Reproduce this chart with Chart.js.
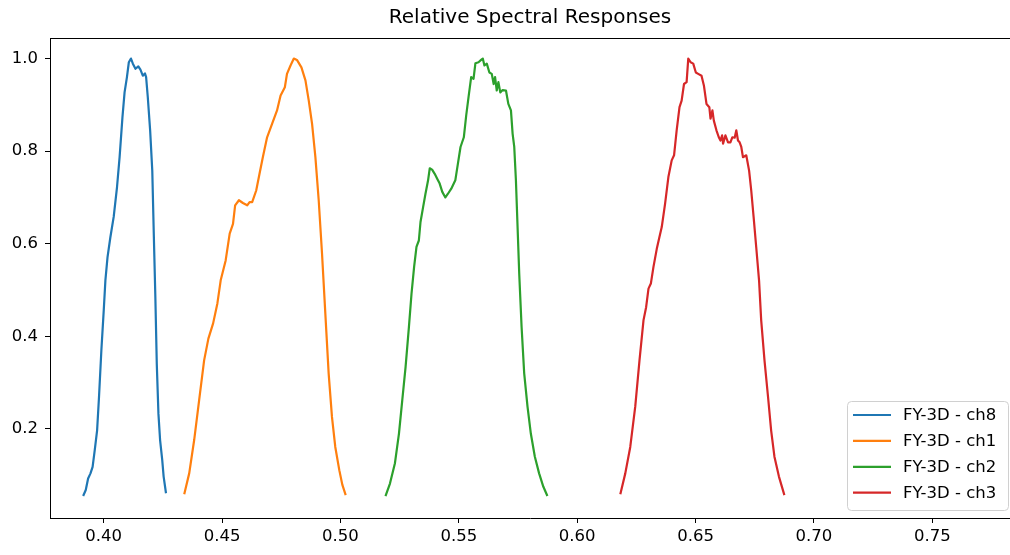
<!DOCTYPE html>
<html>
<head>
<meta charset="utf-8">
<script src="https://cdn.jsdelivr.net/npm/chart.js@4"></script>
<style>
    body { margin: 0; background: #fff; }
    canvas { display: block; }
</style>
</head>
<body>
<canvas id="srf" width="1010" height="555"></canvas>
<script>
// wavelengths in micrometres, responses normalised to 1
const ch8Wl = [0.3913, 0.3924, 0.3934, 0.3944, 0.3953, 0.3962, 0.3972, 0.3980, 0.3990, 0.4000, 0.4007, 0.4016, 0.4028, 0.4042, 0.4056, 0.4067, 0.4079, 0.4088, 0.4098, 0.4106, 0.4115, 0.4123, 0.4134, 0.4146, 0.4155, 0.4165, 0.4174, 0.4179, 0.4186, 0.4196, 0.4205, 0.4211, 0.4218, 0.4224, 0.4231, 0.4238, 0.4247, 0.4253, 0.4263];
const ch8Resp = [0.055, 0.068, 0.093, 0.104, 0.118, 0.154, 0.197, 0.269, 0.370, 0.456, 0.521, 0.571, 0.614, 0.658, 0.722, 0.787, 0.873, 0.927, 0.960, 0.992, 1.0, 0.989, 0.978, 0.983, 0.976, 0.963, 0.968, 0.960, 0.917, 0.845, 0.758, 0.629, 0.485, 0.341, 0.233, 0.176, 0.133, 0.097, 0.061];

const ch1Wl = [0.4340, 0.4361, 0.4382, 0.4403, 0.4424, 0.4442, 0.4462, 0.4480, 0.4494, 0.4515, 0.4532, 0.4546, 0.4555, 0.4571, 0.4588, 0.4606, 0.4616, 0.4627, 0.4644, 0.4658, 0.4672, 0.4690, 0.4711, 0.4732, 0.4747, 0.4765, 0.4774, 0.4789, 0.4803, 0.4816, 0.4835, 0.4852, 0.4866, 0.4880, 0.4894, 0.4908, 0.4922, 0.4936, 0.4950, 0.4964, 0.4978, 0.4995, 0.5008, 0.5022];
const ch1Resp = [0.059, 0.104, 0.176, 0.262, 0.348, 0.395, 0.428, 0.471, 0.521, 0.564, 0.622, 0.643, 0.683, 0.694, 0.688, 0.683, 0.690, 0.690, 0.715, 0.751, 0.787, 0.830, 0.859, 0.888, 0.920, 0.938, 0.967, 0.985, 1.0, 0.997, 0.981, 0.953, 0.909, 0.859, 0.787, 0.694, 0.579, 0.449, 0.320, 0.226, 0.161, 0.111, 0.079, 0.057];

const ch2Wl = [0.5190, 0.5209, 0.5230, 0.5247, 0.5261, 0.5275, 0.5289, 0.5300, 0.5311, 0.5321, 0.5331, 0.5338, 0.5349, 0.5359, 0.5370, 0.5377, 0.5387, 0.5398, 0.5409, 0.5419, 0.5430, 0.5443, 0.5454, 0.5468, 0.5485, 0.5496, 0.5507, 0.5521, 0.5531, 0.5541, 0.5552, 0.5562, 0.5570, 0.5583, 0.5594, 0.5601, 0.5608, 0.5618, 0.5629, 0.5639, 0.5647, 0.5653, 0.5660, 0.5667, 0.5675, 0.5685, 0.5699, 0.5709, 0.5720, 0.5727, 0.5734, 0.5741, 0.5748, 0.5755, 0.5765, 0.5776, 0.5790, 0.5804, 0.5821, 0.5839, 0.5857, 0.5874];
const ch2Resp = [0.055, 0.082, 0.126, 0.190, 0.262, 0.334, 0.420, 0.492, 0.550, 0.593, 0.607, 0.647, 0.679, 0.708, 0.737, 0.763, 0.760, 0.751, 0.740, 0.730, 0.712, 0.700, 0.708, 0.719, 0.737, 0.773, 0.809, 0.830, 0.877, 0.917, 0.960, 0.956, 0.990, 0.992, 0.997, 1.0, 0.985, 0.989, 0.970, 0.967, 0.945, 0.960, 0.931, 0.949, 0.927, 0.932, 0.931, 0.902, 0.888, 0.838, 0.809, 0.737, 0.636, 0.535, 0.420, 0.320, 0.248, 0.190, 0.140, 0.104, 0.075, 0.055];

const ch3Wl = [0.6182, 0.6203, 0.6224, 0.6245, 0.6263, 0.6280, 0.6291, 0.6301, 0.6311, 0.6322, 0.6336, 0.6347, 0.6357, 0.6371, 0.6385, 0.6399, 0.6409, 0.6420, 0.6432, 0.6441, 0.6451, 0.6462, 0.6469, 0.6479, 0.6490, 0.6501, 0.6511, 0.6525, 0.6535, 0.6546, 0.6558, 0.6563, 0.6571, 0.6577, 0.6588, 0.6598, 0.6605, 0.6612, 0.6616, 0.6626, 0.6637, 0.6647, 0.6655, 0.6665, 0.6672, 0.6679, 0.6686, 0.6693, 0.6700, 0.6714, 0.6726, 0.6735, 0.6745, 0.6756, 0.6768, 0.6777, 0.6791, 0.6806, 0.6819, 0.6833, 0.6852, 0.6875];
const ch3Resp = [0.059, 0.104, 0.161, 0.248, 0.348, 0.435, 0.463, 0.503, 0.514, 0.550, 0.589, 0.614, 0.636, 0.686, 0.744, 0.780, 0.791, 0.845, 0.895, 0.909, 0.945, 0.949, 1.0, 0.992, 0.989, 0.970, 0.967, 0.963, 0.942, 0.902, 0.895, 0.870, 0.888, 0.866, 0.845, 0.830, 0.823, 0.834, 0.816, 0.834, 0.819, 0.819, 0.830, 0.829, 0.845, 0.823, 0.819, 0.809, 0.787, 0.791, 0.758, 0.715, 0.658, 0.593, 0.521, 0.435, 0.348, 0.269, 0.197, 0.140, 0.097, 0.057];

const seriesLabels = ['FY-3D - ch8', 'FY-3D - ch1', 'FY-3D - ch2', 'FY-3D - ch3'];
const xTicks = [0.40, 0.45, 0.50, 0.55, 0.60, 0.65, 0.70, 0.75];
const yTicks = [0.2, 0.4, 0.6, 0.8, 1.0];

const colors = ['#1f77b4', '#ff7f0e', '#2ca02c', '#d62728'];
const FONT = 'DejaVu Sans';

function points(xs, ys) {
    return xs.map((x, i) => ({x: x, y: ys[i]}));
}

const curves = [[ch8Wl, ch8Resp], [ch1Wl, ch1Resp], [ch2Wl, ch2Resp], [ch3Wl, ch3Resp]];

// top spine + matplotlib-like legend box in the lower right
const frameAndLegend = {
    id: 'frameAndLegend',
    afterDraw(chart) {
        const ctx = chart.ctx;
        const a = chart.chartArea;
        ctx.save();
        ctx.strokeStyle = '#000';
        ctx.lineWidth = 1;
        ctx.beginPath();
        ctx.moveTo(a.left, Math.round(a.top) + 0.5);
        ctx.lineTo(chart.width, Math.round(a.top) + 0.5);
        ctx.stroke();

        const w = 161, h = 109;
        const x0 = 847.5, y0 = 401.5;
        ctx.beginPath();
        ctx.roundRect(x0, y0, w, h, 4);
        ctx.fillStyle = 'rgba(255,255,255,0.8)';
        ctx.fill();
        ctx.strokeStyle = '#d0d0d0';
        ctx.stroke();

        ctx.font = '16.5px "' + FONT + '"';
        ctx.textBaseline = 'middle';
        ctx.textAlign = 'left';
        chart.data.datasets.forEach((ds, i) => {
            const y = 415 + i * 25.9;
            ctx.strokeStyle = ds.borderColor;
            ctx.lineWidth = 2.2;
            ctx.beginPath();
            ctx.moveTo(853, y);
            ctx.lineTo(891, y);
            ctx.stroke();
            ctx.fillStyle = '#000';
            ctx.fillText(ds.label, 903, y + 1);
        });
        ctx.restore();
    }
};

new Chart(document.getElementById('srf').getContext('2d'), {
    type: 'line',
    data: {
        datasets: curves.map((c, i) => ({
            label: seriesLabels[i],
            data: points(c[0], c[1]),
            borderColor: colors[i],
            backgroundColor: colors[i],
            borderWidth: 2.2,
            borderJoinStyle: 'round',
            pointRadius: 0,
            tension: 0,
            fill: false
        }))
    },
    options: {
        responsive: false,
        animation: false,
        layout: {padding: {left: 0, right: -5, top: 0, bottom: 0}},
        plugins: {
            legend: {display: false},
            tooltip: {enabled: false},
            title: {
                display: true,
                text: 'Relative Spectral Responses',
                fullSize: false,
                color: '#000',
                font: {family: FONT, size: 20, weight: 'normal', lineHeight: 1.2},
                padding: {top: 6, bottom: 8}
            }
        },
        scales: {
            x: {
                type: 'linear',
                min: 0.3773,
                max: 0.7828,
                afterBuildTicks: s => { s.ticks = xTicks.map(v => ({value: v})); },
                afterFit: s => { s.height = 37; },
                border: {display: true, color: '#000', width: 1},
                grid: {drawOnChartArea: false, tickLength: 5, tickColor: '#000', tickWidth: 1},
                ticks: {
                    color: '#000',
                    padding: 4,
                    maxRotation: 0,
                    font: {family: FONT, size: 16.5},
                    callback: v => v.toFixed(2)
                }
            },
            y: {
                min: 0.0076,
                max: 1.0444,
                afterBuildTicks: s => { s.ticks = yTicks.map(v => ({value: v})); },
                afterFit: s => { s.width = 50; },
                border: {display: true, color: '#000', width: 1},
                grid: {drawOnChartArea: false, tickLength: 5, tickColor: '#000', tickWidth: 1},
                ticks: {
                    color: '#000',
                    padding: 7,
                    font: {family: FONT, size: 16.5},
                    callback: v => v.toFixed(1)
                }
            }
        }
    },
    plugins: [frameAndLegend]
});
</script>
</body>
</html>
